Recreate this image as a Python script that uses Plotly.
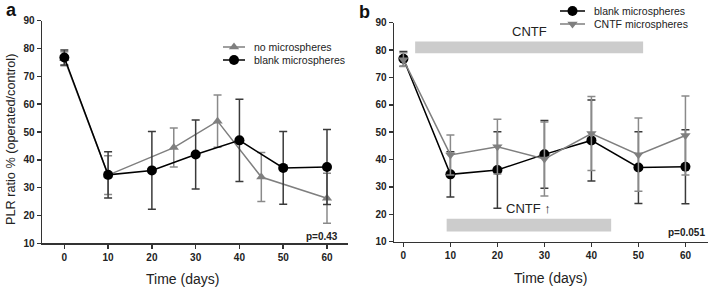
import plotly.graph_objects as go

# ---- data ----
days_all = [0, 10, 20, 30, 40, 50, 60]
blank_y = [76.8, 34.6, 36.2, 41.9, 47.0, 37.1, 37.4]
blank_err = [2.7, 8.3, 14.0, 12.4, 14.8, 13.1, 13.5]

none_days = [0, 10, 25, 35, 45, 60]
none_y = [76.3, 34.5, 44.4, 53.9, 33.8, 26.2]
none_err = [2.5, 7.0, 7.0, 9.4, 8.8, 9.0]

cntf_y = [76.5, 41.7, 44.7, 40.2, 49.5, 41.8, 48.8]
cntf_err = [2.5, 7.3, 10.0, 13.5, 13.5, 13.4, 14.4]

cntf_period = [2.5, 51.0]
cntf_up_period = [9.2, 44.2]

x_ticks = [0, 10, 20, 30, 40, 50, 60]
y_ticks = [10, 20, 30, 40, 50, 60, 70, 80, 90]

BLACK = "#000000"
GRAY = "#7f7f7f"
EBLACK = "#3a3a3a"
EGRAY = "#8a8a8a"
TXT = "#222222"
FONT = "Liberation Sans, Arial, sans-serif"
W, H = 714, 291

fig = go.Figure()

# panel a
fig.add_trace(go.Scatter(
    x=none_days, y=none_y, mode="lines+markers", name="no microspheres",
    line=dict(color=GRAY, width=1.5),
    marker=dict(symbol="triangle-up", size=9, color=GRAY),
    error_y=dict(type="data", array=none_err, color=EGRAY, thickness=1.5, width=4),
    xaxis="x", yaxis="y", showlegend=False))
fig.add_trace(go.Scatter(
    x=days_all, y=blank_y, mode="lines+markers", name="blank microspheres",
    line=dict(color=BLACK, width=1.5),
    marker=dict(symbol="circle", size=10, color=BLACK),
    error_y=dict(type="data", array=blank_err, color=EBLACK, thickness=1.5, width=4),
    xaxis="x", yaxis="y", showlegend=False))

# panel b
fig.add_trace(go.Scatter(
    x=days_all, y=blank_y, mode="lines+markers", name="blank microspheres",
    line=dict(color=BLACK, width=1.5),
    marker=dict(symbol="circle", size=10, color=BLACK),
    error_y=dict(type="data", array=blank_err, color=EBLACK, thickness=1.5, width=4),
    xaxis="x2", yaxis="y2", showlegend=False))
fig.add_trace(go.Scatter(
    x=days_all, y=cntf_y, mode="lines+markers", name="CNTF microspheres",
    line=dict(color=GRAY, width=1.5),
    marker=dict(symbol="triangle-down", size=9, color=GRAY),
    error_y=dict(type="data", array=cntf_err, color=EGRAY, thickness=1.5, width=4),
    xaxis="x2", yaxis="y2", showlegend=False))

# ---- hand-made legends on a hidden pixel-space overlay axis ----
legend_items = [
    # (line x0, line x1, y, symbol, size, color, label)
    (223, 245, 47, "triangle-up", 9, GRAY, "no microspheres"),
    (223, 245, 60, "circle", 10, BLACK, "blank microspheres"),
    (560, 585, 11, "circle", 10, BLACK, "blank microspheres"),
    (560, 585, 24, "triangle-down", 9, GRAY, "CNTF microspheres"),
]
for x0, x1, yy, sym, sz, col, lab in legend_items:
    fig.add_trace(go.Scatter(
        x=[x0, x1], y=[yy, yy], mode="lines",
        line=dict(color=col, width=1.5), xaxis="x3", yaxis="y3",
        showlegend=False, hoverinfo="skip", cliponaxis=False))
    fig.add_trace(go.Scatter(
        x=[(x0 + x1) / 2], y=[yy], mode="markers",
        marker=dict(symbol=sym, size=sz, color=col), xaxis="x3", yaxis="y3",
        showlegend=False, hoverinfo="skip", cliponaxis=False))
    fig.add_annotation(x=x1 + 7, y=yy, xref="x3", yref="y3", xanchor="left", yanchor="middle",
                       text=lab, showarrow=False, font=dict(size=10.5, family=FONT, color=TXT))

axis_common = dict(
    showline=True, linecolor="#333", linewidth=1.5, ticks="outside",
    ticklen=4, tickcolor="#333", tickwidth=1.5, showgrid=False, zeroline=False,
    automargin=False,
    tickfont=dict(family=FONT, size=10, color=TXT, weight="bold"),
)

fig.update_layout(
    width=W, height=H,
    margin=dict(l=0, r=0, t=0, b=0),
    plot_bgcolor="rgba(0,0,0,0)", paper_bgcolor="white",
    font=dict(family=FONT, color=TXT),
    showlegend=False,
    hovermode=False,
    xaxis=dict(domain=[42 / W, 348 / W], range=[-5.1, 64.8], tickvals=x_ticks,
               anchor="y", **axis_common),
    yaxis=dict(domain=[1 - 243.3 / H, 1 - 20.7 / H], range=[10, 90], tickvals=y_ticks,
               anchor="x", **axis_common),
    xaxis2=dict(domain=[394 / W, 708 / W], range=[-2, 64.8], tickvals=x_ticks,
                anchor="y2", **axis_common),
    yaxis2=dict(domain=[1 - 241.7 / H, 1 - 22.7 / H], range=[10, 90], tickvals=y_ticks,
                anchor="x2", **axis_common),
    xaxis3=dict(domain=[0, 1], range=[0, W], visible=False, fixedrange=True, automargin=False),
    yaxis3=dict(domain=[0, 1], range=[H, 0], visible=False, fixedrange=True, automargin=False,
                anchor="x3"),
)

# axis titles
fig.add_annotation(x=11 / W, y=1 - 140 / H, xref="paper", yref="paper", xanchor="center", yanchor="middle",
                   text="PLR ratio % (operated/control)", textangle=-90, showarrow=False,
                   font=dict(size=12.7, family=FONT, color=TXT))
fig.add_annotation(x=182 / W, y=1 - 279 / H, xref="paper", yref="paper", xanchor="center", yanchor="middle",
                   text="Time (days)", showarrow=False, font=dict(size=14, family=FONT, color=TXT))
fig.add_annotation(x=550 / W, y=1 - 278 / H, xref="paper", yref="paper", xanchor="center", yanchor="middle",
                   text="Time (days)", showarrow=False, font=dict(size=14, family=FONT, color=TXT))

# gray bars in panel b
fig.add_shape(type="rect", xref="x2", yref="y2", x0=cntf_period[0], x1=cntf_period[1],
              y0=78.8, y1=83.1, fillcolor="#cccccc", line=dict(width=0), layer="below")
fig.add_shape(type="rect", xref="x2", yref="y2", x0=cntf_up_period[0], x1=cntf_up_period[1],
              y0=13.7, y1=18.4, fillcolor="#cccccc", line=dict(width=0), layer="below")

fig.add_annotation(x=(cntf_period[0] + cntf_period[1]) / 2, y=86.7, xref="x2", yref="y2",
                   text="CNTF", showarrow=False, font=dict(size=13, family=FONT, color=TXT))
fig.add_annotation(x=(cntf_up_period[0] + cntf_up_period[1]) / 2, y=22.0, xref="x2", yref="y2",
                   text="CNTF \u2191", showarrow=False, font=dict(size=13, family=FONT, color=TXT))

fig.add_annotation(x=340 / W, y=1 - 236.7 / H, xref="paper", yref="paper", xanchor="right", yanchor="middle",
                   text="p=0.43", showarrow=False,
                   font=dict(size=10, family=FONT, color=TXT, weight="bold"))
fig.add_annotation(x=707 / W, y=1 - 232.3 / H, xref="paper", yref="paper", xanchor="right", yanchor="middle",
                   text="p=0.051", showarrow=False,
                   font=dict(size=10, family=FONT, color=TXT, weight="bold"))

fig.add_annotation(x=4 / W, y=1 - 10 / H, xref="paper", yref="paper", xanchor="left", yanchor="middle",
                   text="a", showarrow=False, font=dict(size=18, family=FONT, color="#111", weight="bold"))
fig.add_annotation(x=357 / W, y=1 - 12 / H, xref="paper", yref="paper", xanchor="left", yanchor="middle",
                   text="b", showarrow=False, font=dict(size=18, family=FONT, color="#111", weight="bold"))

fig.write_html("out.html",
               config={"displayModeBar": False, "staticPlot": True},
               post_script="document.body.style.margin='0px';document.body.style.overflow='hidden';")
